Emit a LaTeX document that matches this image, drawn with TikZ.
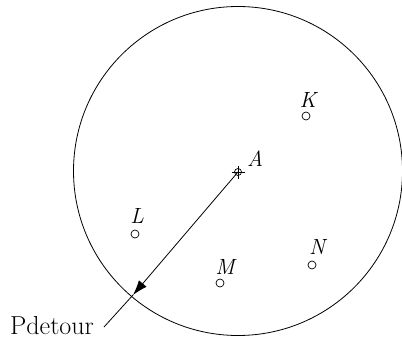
\documentclass[tikz,border=0pt]{standalone}
\usetikzlibrary{arrows.meta}
\begin{document}
\begin{tikzpicture}[x=1pt,y=-1pt,
  pt/.style={circle,draw,line width=0.7pt,minimum size=8pt,inner sep=0pt},
  lab/.style={font=\fontsize{22}{24}\selectfont\itshape},
  line width=0.8pt]
\useasboundingbox (0,0) rectangle (402,340);
\coordinate (O) at (238,171);
\draw (O) circle[radius=164.5];
% center A
\node[circle,draw,line width=0.7pt,minimum size=7pt,inner sep=0pt] (A) at (238,172) {};
\draw[line width=0.7pt] (231.5,172) -- (244.5,172) (238,165.5) -- (238,178.5);
\node[lab] (Al) at (255,159) {A};
% points
\node[pt] (K) at (306,116) {};
\node[lab] (Kl) at (308,100) {K};
\node[pt] (L) at (135,234) {};
\node[lab] (Ll) at (137,216) {L};
\node[pt] (M) at (220,283) {};
\node[lab] (Ml) at (225,267) {M};
\node[pt] (N) at (312,265) {};
\node[lab] (Nl) at (317,247) {N};
% arrow to circle
\coordinate (P) at (133,295);
\draw[-{Latex[length=15pt,width=10pt]}] (A.center) -- (P);
\node[font=\fontsize{26}{28}\selectfont] (Pd) at (52,326) {Pdetour};
\coordinate (Pe) at (104,327);
\draw (Pe) -- (P);
\end{tikzpicture}
\end{document}
